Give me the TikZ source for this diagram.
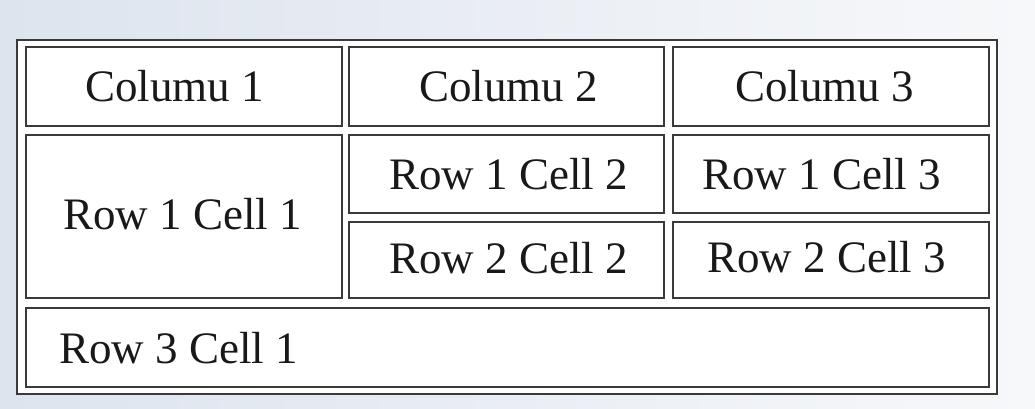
\documentclass[tikz,border=0pt]{standalone}
\usepackage{fontspec}
\setmainfont{Liberation Serif}
\definecolor{bgleft}{RGB}{221,228,238}
\definecolor{bgright}{RGB}{247,248,250}
\definecolor{rule}{RGB}{58,58,58}
\definecolor{ink}{RGB}{25,25,25}
\begin{document}
\begin{tikzpicture}[x=1pt,y=-1pt,
  cellbox/.style={draw=rule,line width=1.8pt,fill=white,rectangle,inner sep=0pt,outer sep=0pt},
  celltext/.style={anchor=base west,inner sep=0pt,text=ink,font=\fontsize{45}{54}\selectfont}]
\useasboundingbox (0,0) rectangle (1035,408);
\shade[left color=bgleft,right color=bgright] (0,0) rectangle (1035,408);
% outer table
\node[cellbox,minimum width=979.7pt,minimum height=354pt] (outer) at (506.85,217) {};
% header
\node[cellbox,minimum width=316pt,minimum height=78.7pt] (h1) at (183.7,86.65) {};
\node[cellbox,minimum width=315.3pt,minimum height=78.7pt] (h2) at (506.65,86.65) {};
\node[cellbox,minimum width=316.6pt,minimum height=78.7pt] (h3) at (831,86.65) {};
% body
\node[cellbox,minimum width=316pt,minimum height=163.3pt] (r1c1) at (183.7,216.65) {};
\node[cellbox,minimum width=315.3pt,minimum height=77.7pt] (r1c2) at (506.65,173.85) {};
\node[cellbox,minimum width=316.6pt,minimum height=77.7pt] (r1c3) at (831,173.85) {};
\node[cellbox,minimum width=315.3pt,minimum height=76.6pt] (r2c2) at (506.65,260) {};
\node[cellbox,minimum width=316.6pt,minimum height=76.6pt] (r2c3) at (831,260) {};
\node[cellbox,minimum width=963.6pt,minimum height=79pt] (r3c1) at (507.5,347.2) {};
% texts
\node[celltext] (t_h1) at (85,101) {Columu 1};
\node[celltext] (t_h2) at (419,101.5) {Columu 2};
\node[celltext] (t_h3) at (735,101.5) {Columu 3};
\node[celltext] (t_r1c1) at (63,229.3) {Row 1 Cell 1};
\node[celltext] (t_r1c2) at (389,189.3) {Row 1 Cell 2};
\node[celltext] (t_r1c3) at (702,189.3) {Row 1 Cell 3};
\node[celltext] (t_r2c2) at (389,273) {Row 2 Cell 2};
\node[celltext] (t_r2c3) at (707,272.7) {Row 2 Cell 3};
\node[celltext] (t_r3c1) at (59,363.3) {Row 3 Cell 1};
\end{tikzpicture}
\end{document}
